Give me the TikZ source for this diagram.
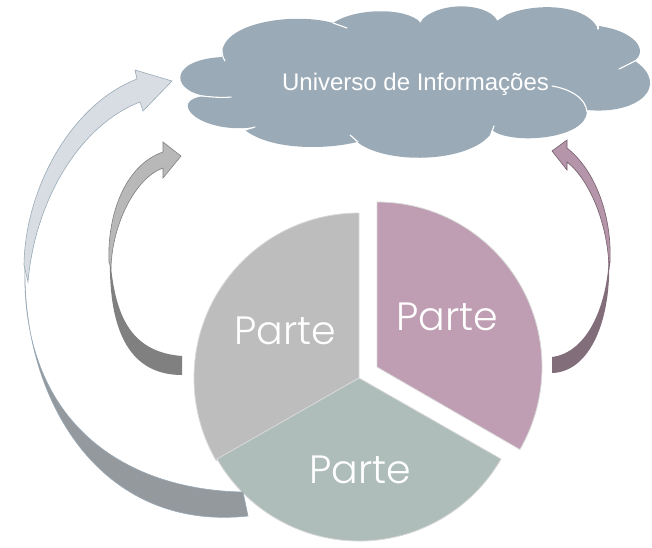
\documentclass[tikz,border=0pt]{standalone}
\usepackage{fontspec}
\setmainfont{Liberation Sans}
\newfontfamily\partefont{Poppins Light}
\definecolor{cloudblue}{HTML}{9AAAB7}
\definecolor{piegray}{HTML}{BDBDBD}
\definecolor{piegreen}{HTML}{AEBDB9}
\definecolor{piepink}{HTML}{BF9DB2}
\definecolor{bandgray}{HTML}{94999D}
\tikzset{
  slice/.style={draw=white!85!black, line width=0.8pt},
  partelabel/.style={text=white, font=\partefont\fontsize{39.5}{39.5}\selectfont, inner sep=0pt},
  crease/.style={draw=white, line width=1.1pt, line cap=round},
}
\begin{document}
\begin{tikzpicture}[x=1pt, y=-1pt]
    \useasboundingbox (0, 0) rectangle (652, 547);

    % cloud
    \fill [cloudblue] (222, 57) .. controls (218, 22) and (295, 12) .. (333, 23)
        .. controls (355, 8) and (405, 7) .. (420, 22)
        .. controls (435, 2) and (485, 1) .. (497, 20)
        .. controls (520, 3) and (585, 0) .. (598, 29)
        -- (599, 26) .. controls (640, 32) and (650, 55) .. (630, 63)
        -- (635, 61) .. controls (670, 85) and (640, 115) .. (587, 110)
        -- (587, 112) .. controls (585, 140) and (510, 145) .. (492, 130)
        -- (490, 135) .. controls (465, 165) and (375, 165) .. (352, 137)
        -- (357, 142) .. controls (325, 150) and (270, 150) .. (245, 130)
        -- (255, 127) .. controls (200, 135) and (165, 100) .. (205, 96)
        -- (215, 97) .. controls (170, 95) and (165, 60) .. (222, 57)
        -- cycle;
    \draw [crease] (202, 96) .. controls (212, 97) and (222, 98) .. (231, 97);
    \draw [crease] (245, 130) -- (255, 127);
    \draw [crease] (222, 50) .. controls (222, 54) and (223, 58) .. (225, 61);
    \draw [crease] (333, 23) -- (347, 28);
    \draw [crease] (420, 22) -- (423, 17);
    \draw [crease] (497, 20) -- (505, 15);
    \draw [crease] (598, 29) -- (598, 25);
    \draw [crease] (619, 69) -- (635, 61);
    \draw [crease] (552, 86) .. controls (570, 89) and (586, 98) .. (587, 112);
    \draw [crease] (491, 134) -- (494, 126);
    \draw [crease] (350, 135) -- (358, 142);
    \node [text=white, font=\fontsize{24}{24}\selectfont, inner sep=0pt]
          (universo) at (415.5, 84) {Universo de Informações};

    % pie
    \draw [slice, fill=piegray] (359, 378) -- (359, 213)
          arc [start angle=-90, end angle=-210, radius=165] -- cycle;
    \draw [slice, fill=piegreen] (359, 378) -- (217, 459)
          arc [start angle=-210, end angle=-330, radius=164] -- cycle;
    \draw [slice, fill=piepink] (377, 367) -- (377, 202)
          arc [start angle=-90, end angle=30, radius=165] -- cycle;
    \node [partelabel] (parteleft) at (285, 331) {Parte};
    \node [partelabel] (parteright) at (447, 317) {Parte};
    \node [partelabel] (partelow) at (360, 470) {Parte};

    % outer arrow
    \filldraw [fill=bandgray, draw=cloudblue, line width=0.6pt]
          (248, 516) -- (243, 492)
        .. controls (125, 490) and (20, 423) .. (25, 265)
        .. controls (22, 400) and (100, 532) .. (248, 516)
        -- cycle;
    \filldraw [fill=cloudblue!40, draw=cloudblue, line width=0.6pt]
          (28, 282) .. controls (35, 200) and (80, 125) .. (140, 102)
        -- (143, 111) -- (172, 81) -- (135, 70) -- (137, 79)
        .. controls (70, 105) and (25, 190) .. (24, 265)
        -- cycle;

    % left arrow
    \fill [black!50] (182, 356)
        .. controls (130, 352) and (114, 315) .. (110, 255)
        .. controls (108, 335) and (132, 375) .. (182, 375)
        -- cycle;
    \filldraw [fill=black!28, draw=black!50, line width=0.6pt]
          (111, 268) .. controls (112, 225) and (135, 178) .. (163, 168)
        -- (163, 178) -- (181, 156) -- (163, 142) -- (163, 152)
        .. controls (125, 165) and (107, 215) .. (109, 262)
        -- cycle;

    % right arrow
    \fill [piepink!60!black!90] (552, 357)
        .. controls (590, 352) and (608, 300) .. (609, 255)
        .. controls (612, 320) and (590, 372) .. (552, 373)
        -- cycle;
    \filldraw [fill=piepink!95!black, draw=piepink!60!black, line width=0.6pt]
          (609, 268) .. controls (608, 225) and (590, 180) .. (567, 162)
        -- (567, 170) -- (552, 151) -- (567, 140) -- (567, 148)
        .. controls (595, 170) and (612, 215) .. (610, 262)
        -- cycle;
\end{tikzpicture}
\end{document}
